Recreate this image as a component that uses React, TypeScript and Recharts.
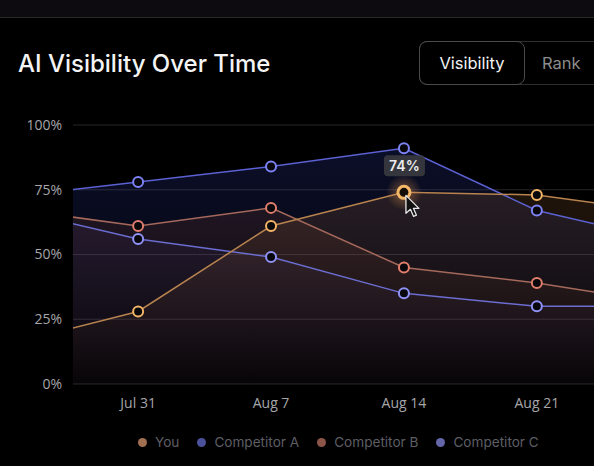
import { Area, CartesianGrid, ComposedChart, Line, ReferenceDot, XAxis, YAxis } from "recharts";

// weekly snapshots; first and last weeks sit just outside the visible range
const weeks = ["Jul 24", "Jul 31", "Aug 7", "Aug 14", "Aug 21", "Aug 28"];
const you = [15, 28, 61, 74, 73, 66];
const competitorA = [72, 78, 84, 91, 67, 55];
const competitorB = [68, 61, 68, 45, 39, 31];
const competitorC = [68, 56, 49, 35, 30, 30];
const yTicks = [0, 25, 50, 75, 100];
const xTicks = [1, 2, 3, 4];
const activeIndex = 3;

const data = weeks.map((week, i) => ({
  x: i,
  week,
  you: you[i],
  a: competitorA[i],
  b: competitorB[i],
  c: competitorC[i],
}));

const series = [
  { key: "a", name: "Competitor A", stroke: "#5b61d2", dot: "#7d82f4", fill: "#2d3aa0", fillOp: 0.42, legend: "#4c519c" },
  { key: "c", name: "Competitor C", stroke: "#6b6dd0", dot: "#9092f6", fill: "#453a86", fillOp: 0.26, legend: "#6466aa" },
  { key: "b", name: "Competitor B", stroke: "#a5695b", dot: "#e27e6c", fill: "#7a4030", fillOp: 0.34, legend: "#8c5548" },
  { key: "you", name: "You", stroke: "#b8834f", dot: "#f3b466", fill: "#8c5a30", fillOp: 0.38, legend: "#a07050" },
];

const legendOrder = ["you", "a", "b", "c"];

function HollowDot(color: string) {
  return (props: any) => {
    const { cx, cy, index } = props;
    if (cx == null || cy == null) return <g key={`d-${index}`} />;
    return <circle key={`d-${index}`} cx={cx} cy={cy} r={5} fill="#08080c" stroke={color} strokeWidth={2} />;
  };
}

// highlighted point with its value bubble and the pointer
function ActiveMarker(props: any) {
  const { cx, cy } = props;
  const label = `${you[activeIndex]}%`;
  return (
    <g>
      <circle cx={cx} cy={cy} r={18} fill="url(#glow)" />
      <rect x={cx - 20} y={cy - 37} width={41} height={21} rx={4} fill="#3a3a3f" fillOpacity={0.92} />
      <text
        x={cx + 0.5}
        y={cy - 21.5}
        textAnchor="middle"
        fill="#ececec"
        fontSize={14}
        fontWeight={600}
        fontFamily="Inter, sans-serif"
      >
        {label}
      </text>
      <circle cx={cx} cy={cy} r={6} fill="#140d06" stroke="#f5b868" strokeWidth={3} />
      <path
        transform={`translate(${cx + 2}, ${cy + 3})`}
        d="M0 0 L0 18 L4.5 14 L7.5 21 L10.5 19.8 L7.5 13 L13 13 Z"
        fill="#111"
        stroke="#e8e8e8"
        strokeWidth={1.3}
        strokeLinejoin="round"
      />
    </g>
  );
}

const axisTick = { fill: "#a6a6aa", fontSize: 14, fontFamily: "'Open Sans', sans-serif" };

export default function App() {
  return (
    <div
      style={{
        position: "fixed",
        left: 0,
        top: 0,
        width: 594,
        height: 466,
        background: "#000",
        overflow: "hidden",
        fontFamily: "Inter, sans-serif",
      }}
    >
      <div style={{ position: "absolute", left: 0, top: 0, width: 594, height: 17, background: "#0d0b0f", borderBottom: "1px solid #2a2729" }} />

      <div style={{ position: "absolute", left: 18, top: 49, color: "#f4f4f4", fontSize: 24, fontWeight: 500 }}>
        AI Visibility Over Time
      </div>

      <div
        style={{
          position: "absolute",
          left: 419,
          top: 41,
          width: 220,
          height: 44,
          border: "1px solid #2e2e30",
          borderRadius: 8,
          boxSizing: "border-box",
        }}
      />
      <div
        style={{
          position: "absolute",
          left: 419,
          top: 41,
          width: 106,
          height: 44,
          border: "1px solid #4a4a4d",
          borderRadius: 8,
          boxSizing: "border-box",
          color: "#f2f2f2",
          fontSize: 16.5,
          display: "flex",
          alignItems: "center",
          justifyContent: "center",
        }}
      >
        Visibility
      </div>
      <div style={{ position: "absolute", left: 542, top: 41, height: 44, display: "flex", alignItems: "center", color: "#8c8c8c", fontSize: 16.5 }}>
        Rank
      </div>

      <div style={{ position: "absolute", left: 0, top: 0 }}>
        <ComposedChart width={594} height={420} data={data} margin={{ top: 125, right: 0, bottom: 0, left: 0 }}>
          <defs>
            {series.map((s) => (
              <linearGradient key={s.key} id={`fill-${s.key}`} x1="0" y1="0" x2="0" y2="1">
                <stop offset="0%" stopColor={s.fill} stopOpacity={s.fillOp} />
                <stop offset="100%" stopColor={s.fill} stopOpacity={0.03} />
              </linearGradient>
            ))}
            <radialGradient id="glow">
              <stop offset="0%" stopColor="#f0a050" stopOpacity={0.45} />
              <stop offset="100%" stopColor="#f0a050" stopOpacity={0} />
            </radialGradient>
          </defs>
          <CartesianGrid vertical={false} stroke="#2a2528" />
          <XAxis
            dataKey="x"
            type="number"
            domain={[0.51, 4.43]}
            allowDataOverflow
            ticks={xTicks}
            tickFormatter={(v: number) => weeks[v]}
            axisLine={false}
            tickLine={false}
            tickSize={0}
            tickMargin={14}
            height={36}
            tick={axisTick}
          />
          <YAxis
            domain={[0, 100]}
            ticks={yTicks}
            tickFormatter={(v: number) => `${v}%`}
            axisLine={false}
            tickLine={false}
            tickSize={0}
            tickMargin={11}
            width={73}
            tick={axisTick}
          />
          {series.map((s) => (
            <Area
              key={`area-${s.key}`}
              type="linear"
              dataKey={s.key}
              stroke="none"
              fill={`url(#fill-${s.key})`}
              isAnimationActive={false}
              dot={false}
              activeDot={false}
            />
          ))}
          {series.map((s) => (
            <Line
              key={`line-${s.key}`}
              type="linear"
              dataKey={s.key}
              stroke={s.stroke}
              strokeWidth={1.5}
              dot={HollowDot(s.dot)}
              activeDot={false}
              isAnimationActive={false}
            />
          ))}
          <ReferenceDot x={activeIndex} y={you[activeIndex]} shape={ActiveMarker} />
        </ComposedChart>
      </div>

      <div
        style={{
          position: "absolute",
          left: 138,
          top: 434,
          display: "flex",
          alignItems: "center",
          gap: 18,
          fontSize: 13.6,
          color: "#5e5e65",
        }}
      >
        {legendOrder.map((k) => {
          const s = series.find((x) => x.key === k)!;
          return (
            <div key={k} style={{ display: "flex", alignItems: "center", gap: 8 }}>
              <span style={{ width: 9, height: 9, borderRadius: 5, background: s.legend, display: "inline-block" }} />
              <span>{s.name}</span>
            </div>
          );
        })}
      </div>
    </div>
  );
}
